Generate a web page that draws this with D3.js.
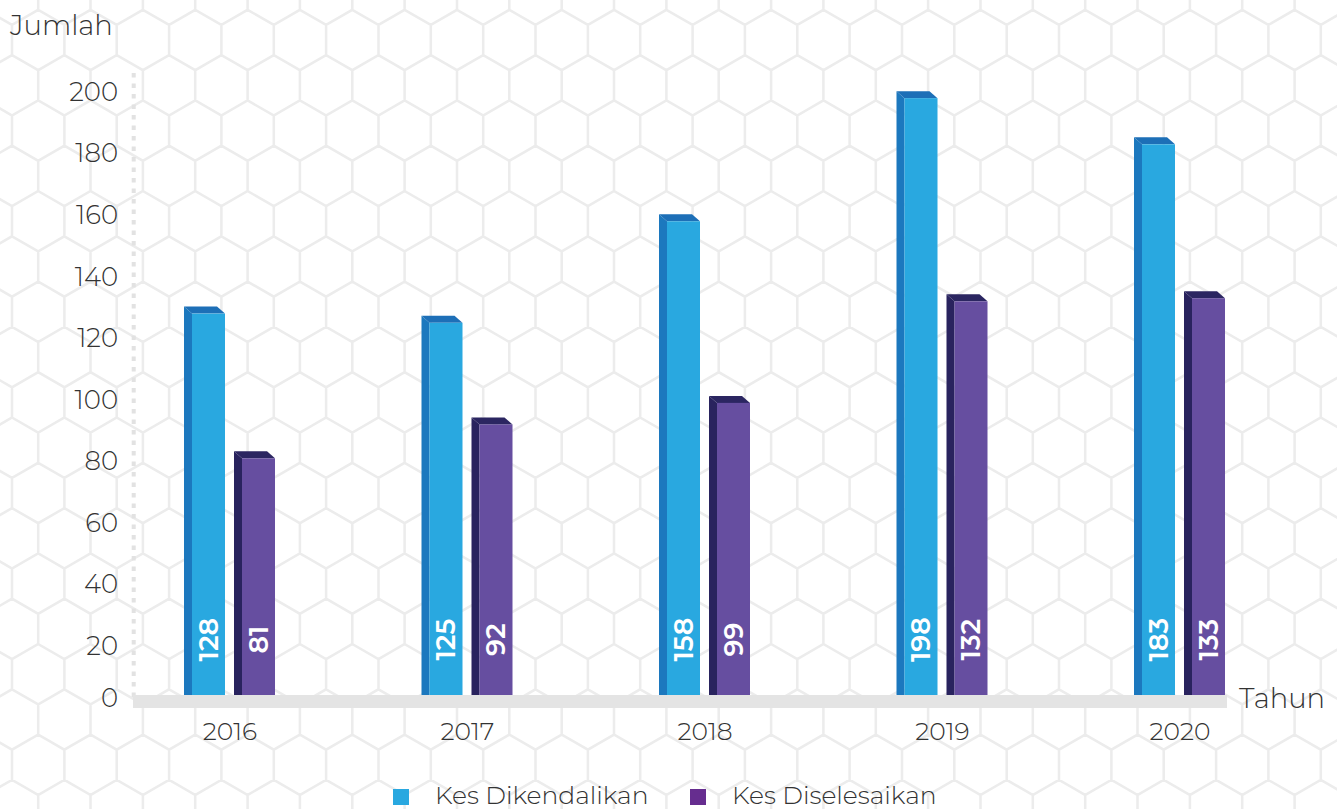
<!DOCTYPE html>
<html>
<head>
<meta charset="utf-8">
<script src="https://cdn.jsdelivr.net/npm/d3@7"></script>
<style>
  body { margin: 0; background: #fff; }
  svg text { font-family: "Montserrat", "Lato", "Open Sans", sans-serif; }
</style>
</head>
<body>
<div id="chart"></div>
<script>
// data
const years = ['2016', '2017', '2018', '2019', '2020'];
const seriesNames = ['Kes Dikendalikan', 'Kes Diselesaikan'];
const dikendalikan = [128, 125, 158, 198, 183];
const diselesaikan = [81, 92, 99, 132, 133];
const yTicks = [0, 20, 40, 60, 80, 100, 120, 140, 160, 180, 200];

const W = 1337, H = 809;
const colors = {
  'Kes Dikendalikan': { front: '#29a8e0', side: '#1c78be', top: '#1d6fb7', legend: '#29a8e0' },
  'Kes Diselesaikan': { front: '#664ea0', side: '#29235e', top: '#2b2661', legend: '#662d8f' }
};

const svg = d3.select('#chart').append('svg')
  .attr('width', W).attr('height', H);

// hexagon background
const r = 30.2, hexW = 52.35, rowH = 45.3;
let hexPath = '';
for (let row = -1; row < 19; row++) {
  const cy = 40 + row * rowH;
  const x0 = row % 2 === 0 ? 38.2 : 12;
  for (let c = -1; c < 27; c++) {
    const cx = x0 + c * hexW;
    const pts = d3.range(6).map(k => {
      const a = (Math.PI / 180) * (-90 + 60 * k);
      return [cx + r * Math.cos(a), cy + r * Math.sin(a)];
    });
    hexPath += 'M' + pts.map(p => p[0].toFixed(1) + ',' + p[1].toFixed(1)).join('L') + 'Z';
  }
}
svg.append('path').attr('d', hexPath)
  .attr('fill', 'none').attr('stroke', '#ececec').attr('stroke-width', 2.5);

// scales
const x = d3.scaleBand().domain(years).range([111.25, 1298.75]);
const y = d3.scaleLinear().domain([0, 200]).range([707.6, 92]);
const depthX = 8, depthY = 7, barW = 33;

// y axis dotted line
svg.append('line')
  .attr('x1', 133.7).attr('x2', 133.7)
  .attr('y1', 73).attr('y2', 700)
  .attr('stroke', '#e2e2e2').attr('stroke-width', 4)
  .attr('stroke-dasharray', '4.5 6');

// y axis labels
const yAxis = svg.append('g')
  .attr('transform', 'translate(118,0)')
  .call(d3.axisLeft(y).tickValues(yTicks).tickSize(0).tickPadding(0));
yAxis.select('.domain').remove();
yAxis.selectAll('text')
  .attr('font-size', 26).attr('font-weight', 300).attr('fill', '#333')
  .attr('font-family', '"Montserrat", "Lato", "Open Sans", sans-serif');
yAxis.selectAll('.tick').filter(d => d === 0).select('text').attr('y', -9.6);

// bars
const rows = years.map((yr, i) => ({
  year: yr,
  values: [
    { key: seriesNames[0], value: dikendalikan[i] },
    { key: seriesNames[1], value: diselesaikan[i] }
  ]
}));

const groups = svg.selectAll('.grp').data(rows).enter().append('g')
  .attr('class', 'grp')
  .attr('transform', d => `translate(${x(d.year) + x.bandwidth() / 2},0)`);

const x1 = d3.scaleOrdinal().domain(seriesNames).range([-38, 12]);

const bars = groups.selectAll('.bar').data(d => d.values).enter().append('g').attr('class', 'bar');

bars.append('path') // side
  .attr('d', d => {
    const bx = x1(d.key), ty = y(d.value), by = y(0);
    return `M${bx - depthX},${ty - depthY}L${bx},${ty}L${bx},${by}L${bx - depthX},${by}Z`;
  })
  .attr('fill', d => colors[d.key].side);

bars.append('path') // top
  .attr('d', d => {
    const bx = x1(d.key), ty = y(d.value);
    return `M${bx},${ty}L${bx + barW},${ty}L${bx + barW - depthX},${ty - depthY}L${bx - depthX},${ty - depthY}Z`;
  })
  .attr('fill', d => colors[d.key].top);

bars.append('rect') // front
  .attr('x', d => x1(d.key))
  .attr('y', d => y(d.value))
  .attr('width', barW)
  .attr('height', d => y(0) - y(d.value))
  .attr('fill', d => colors[d.key].front);

bars.append('text')
  .attr('transform', d => `translate(${x1(d.key) + barW / 2 + 9},${y(0) - 68}) rotate(-90)`)
  .attr('text-anchor', 'middle')
  .attr('font-size', 27).attr('font-weight', 600)
  .attr('fill', '#fff')
  .text(d => d.value);

// baseline band
svg.append('rect')
  .attr('x', 133).attr('y', 695)
  .attr('width', 1227 - 133).attr('height', 13)
  .attr('fill', '#e4e4e4');

// x labels
svg.selectAll('.xlab').data(years).enter().append('text')
  .attr('x', d => x(d) + x.bandwidth() / 2)
  .attr('y', 740)
  .attr('text-anchor', 'middle')
  .attr('font-size', 25).attr('font-weight', 300).attr('fill', '#333')
  .text(d => d);

// axis titles
svg.append('text').attr('x', 10).attr('y', 35)
  .attr('font-size', 27.5).attr('font-weight', 300).attr('fill', '#333')
  .text('Jumlah');
svg.append('text').attr('x', 1239).attr('y', 708)
  .attr('font-size', 27.5).attr('font-weight', 300).attr('fill', '#333')
  .text('Tahun');

// legend
const legendX = [393, 690];
const leg = svg.selectAll('.leg').data(seriesNames).enter().append('g')
  .attr('class', 'leg')
  .attr('transform', (d, i) => `translate(${legendX[i]},789)`);
leg.append('rect').attr('width', 16).attr('height', 16)
  .attr('fill', d => colors[d].legend);
leg.append('text').attr('x', 42).attr('y', 15)
  .attr('font-size', 25).attr('font-weight', 300).attr('fill', '#333')
  .text(d => d);
</script>
</body>
</html>
